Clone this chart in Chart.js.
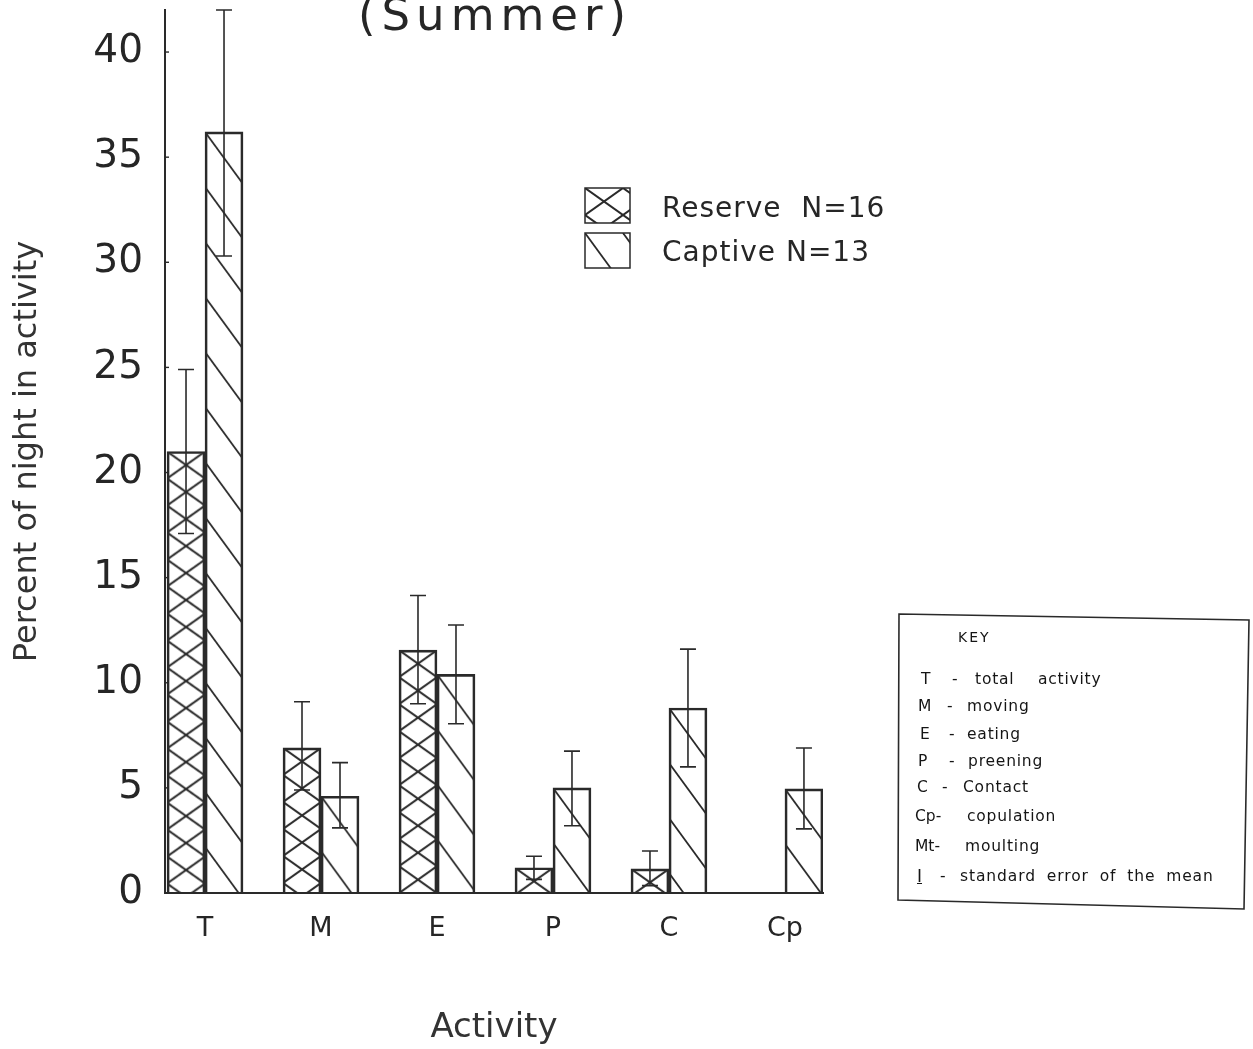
<!DOCTYPE html>
<html>
<head>
<meta charset="utf-8">
<script src="https://cdn.jsdelivr.net/npm/chart.js@4/dist/chart.umd.min.js"></script>
<style>
html,body{margin:0;padding:0;background:#fff;}
#wrap{position:relative;width:1253px;height:1049px;overflow:hidden;background:#fff;}
#c{position:absolute;left:0;top:0;}
.t{position:absolute;font-family:"DejaVu Sans",sans-serif;color:#262626;white-space:pre;line-height:1;}
.k{color:#151515;}
</style>
</head>
<body>
<div id="wrap"><canvas id="c" width="1253" height="1049"></canvas></div>
<script>
// ---------------- data ----------------
const categories = ['T', 'M', 'E', 'P', 'C', 'Cp'];
const seriesNames = ['Reserve  N=16', 'Captive N=13'];
const reserveMean = [21.0, 6.9, 11.55, 1.2, 1.15, 0];
const reserveLow  = [17.1, 4.9, 9.0, 0.65, 0.35, null];
const reserveHigh = [24.9, 9.1, 14.15, 1.75, 2.0, null];
const captiveMean = [36.2, 4.6, 10.4, 5.0, 8.8, 4.95];
const captiveLow  = [30.3, 3.1, 8.05, 3.2, 6.0, 3.05];
const captiveHigh = [42.0, 6.2, 12.75, 6.75, 11.6, 6.9];
const yTicks = [0, 5, 10, 15, 20, 25, 30, 35, 40];
const titleText = '(Summer)';
const yTitle = 'Percent of night in activity';
const xTitle = 'Activity';
const keyTitle = 'KEY';
const keyCodes = ['T', 'M', 'E', 'P', 'C', 'Cp-', 'Mt-'];
const keyDashes = ['-', '-', '-', '-', '-', '', ''];
const keyDescs = ['total  activity', 'moving', 'eating', 'preening', 'Contact', 'copulation', 'moulting'];
const seDesc = 'standard error of the mean';

// ---------------- styling / layout ----------------
const INK = '#2a2a2a';
const BAR_W = 38;
const FONT = '"DejaVu Sans", sans-serif';

function makeTile(w, h, segs, lw) {
  const c = document.createElement('canvas');
  c.width = w; c.height = h;
  const g = c.getContext('2d');
  g.strokeStyle = INK; g.lineWidth = lw;
  for (const dx of [-w, 0, w]) for (const dy of [-h, 0, h]) for (const s of segs) {
    g.beginPath(); g.moveTo(s[0] + dx, s[1] + dy); g.lineTo(s[2] + dx, s[3] + dy); g.stroke();
  }
  return c;
}
const crossTile = makeTile(38, 27, [[0, 0, 38, 27], [38, 0, 0, 27]], 2);
const hatchTile = makeTile(38, 55, [[0, 0, 38, 52]], 1.8);

function patternAt(ctx2d, tileCanvas, left, top) {
  const p = ctx2d.createPattern(tileCanvas, 'repeat');
  p.setTransform(new DOMMatrix([1, 0, 0, 1, left, top]));
  return p;
}

function barFill(tileCanvas, side) {
  return function (ctx) {
    if (ctx.type !== 'data') return 'rgba(0,0,0,0)';
    const chart = ctx.chart;
    const xs = chart.scales.x, ys = chart.scales.y;
    if (!xs || !ys) return 'rgba(0,0,0,0)';
    const c = xs.getPixelForValue(ctx.dataIndex);
    const left = side === 0 ? c - BAR_W : c;
    const top = ys.getPixelForValue(ctx.raw.y);
    return patternAt(chart.ctx, tileCanvas, left, top);
  };
}

const errorBars = {
  id: 'errorBars',
  afterDatasetsDraw(chart) {
    const ctx = chart.ctx, ys = chart.scales.y;
    ctx.save();
    ctx.strokeStyle = INK; ctx.lineWidth = 1.6;
    chart.data.datasets.forEach((ds, d) => {
      const meta = chart.getDatasetMeta(d);
      meta.data.forEach((bar, i) => {
        const lo = ds.errLow[i], hi = ds.errHigh[i];
        if (lo == null || hi == null) return;
        const x = bar.x, y1 = ys.getPixelForValue(lo), y2 = ys.getPixelForValue(hi);
        ctx.beginPath();
        ctx.moveTo(x, y1); ctx.lineTo(x, y2);
        ctx.moveTo(x - 8, y1); ctx.lineTo(x + 8, y1);
        ctx.moveTo(x - 8, y2); ctx.lineTo(x + 8, y2);
        ctx.stroke();
      });
    });
    ctx.restore();
  }
};

const extras = {
  id: 'extras',
  afterDraw(chart) {
    const ctx = chart.ctx, ys = chart.scales.y, xs = chart.scales.x;
    ctx.save();
    ctx.strokeStyle = INK; ctx.lineWidth = 1.4;
    // small inner tick marks on y axis
    yTicks.forEach(v => {
      const y = ys.getPixelForValue(v);
      ctx.beginPath(); ctx.moveTo(xs.left, y); ctx.lineTo(xs.left + 4, y); ctx.stroke();
    });
    // legend swatches
    const sw = [[585, 188, 45, 35, crossTile], [585, 233, 45, 35, hatchTile]];
    sw.forEach(s => {
      ctx.fillStyle = patternAt(ctx, s[4], s[0], s[1]);
      ctx.fillRect(s[0], s[1], s[2], s[3]);
      ctx.lineWidth = 1.5;
      ctx.strokeRect(s[0], s[1], s[2], s[3]);
    });
    // key box (slightly skewed as in the scan)
    ctx.lineWidth = 1.6;
    ctx.beginPath();
    ctx.moveTo(899, 614); ctx.lineTo(1249, 620); ctx.lineTo(1244, 909); ctx.lineTo(898, 900); ctx.closePath();
    ctx.stroke();
    ctx.restore();
  }
};

new Chart(document.getElementById('c'), {
  type: 'bar',
  data: {
    datasets: [
      {
        label: seriesNames[0],
        data: reserveMean.map((v, i) => ({ x: i, y: v })),
        errLow: reserveLow, errHigh: reserveHigh,
        backgroundColor: barFill(crossTile, 0),
        borderColor: INK, borderWidth: 2,
        barThickness: BAR_W
      },
      {
        label: seriesNames[1],
        data: captiveMean.map((v, i) => ({ x: i, y: v })),
        errLow: captiveLow, errHigh: captiveHigh,
        backgroundColor: barFill(hatchTile, 1),
        borderColor: INK, borderWidth: 2,
        barThickness: BAR_W
      }
    ]
  },
  options: {
    responsive: false,
    animation: false,
    layout: { padding: { top: 10, right: 430, bottom: 0, left: 0 } },
    plugins: { legend: { display: false }, tooltip: { enabled: false }, title: { display: false } },
    scales: {
      x: {
        type: 'linear',
        offset: false,
        min: -0.345, max: 5.328,
        afterBuildTicks: ax => { ax.ticks = categories.map((c, i) => ({ value: i })); },
        afterFit: ax => { ax.height = 156; ax.paddingLeft = 0; ax.paddingRight = 0; },
        grid: { display: false, drawTicks: false, offset: false },
        border: { display: true, color: INK, width: 2 },
        ticks: {
          padding: 20,
          color: '#262626',
          font: { family: FONT, size: 27 },
          callback: v => categories[v]
        },
        title: { display: true, text: xTitle, color: '#333', font: { family: FONT, size: 34 }, padding: { top: 0, bottom: 0 } }
      },
      y: {
        min: 0, max: 42,
        afterBuildTicks: ax => { ax.ticks = yTicks.map(v => ({ value: v })); },
        afterFit: ax => { ax.width = 165; ax.paddingTop = 0; ax.paddingBottom = 0; },
        grid: { display: false, drawTicks: false },
        border: { display: true, color: INK, width: 2 },
        ticks: { padding: 22, color: '#262626', font: { family: FONT, size: 39 } },
        title: { display: true, text: yTitle, color: '#333', font: { family: FONT, size: 32 }, padding: { top: 8, bottom: 0 } }
      }
    }
  },
  plugins: [errorBars, extras]
});

// ---------------- real-text overlays ----------------
const wrap = document.getElementById('wrap');
function place(text, x, baseline, size, extra, cls) {
  const d = document.createElement('div');
  d.className = 't' + (cls ? ' ' + cls : '');
  d.textContent = text;
  d.style.left = x + 'px';
  d.style.top = (baseline - 0.846 * size) + 'px';
  d.style.fontSize = size + 'px';
  if (extra) Object.assign(d.style, extra);
  wrap.appendChild(d);
  return d;
}
place(titleText, 358, 30, 45, { letterSpacing: '6px', fontWeight: '500' });
place(seriesNames[0], 662, 218, 28, { letterSpacing: '1px' });
place(seriesNames[1], 662, 262, 28, { letterSpacing: '1px' });

place(keyTitle, 958, 642, 14, { letterSpacing: '2px' }, 'k');
const keyBase = [685, 712, 740, 767, 793, 822, 852];
const codeX = [921, 918, 920, 918, 917, 915, 915];
const dashX = [952, 947, 949, 949, 942, 0, 0];
const descX = [975, 967, 967, 968, 963, 967, 965];
keyCodes.forEach((c, i) => {
  place(c, codeX[i], keyBase[i], 15.5, {}, 'k');
  if (keyDashes[i]) place(keyDashes[i], dashX[i], keyBase[i], 15.5, {}, 'k');
  place(keyDescs[i], descX[i], keyBase[i], 15.5, { letterSpacing: '0.8px', wordSpacing: '6px' }, 'k');
});
place('I', 917, 882, 17, { textDecoration: 'underline' }, 'k');
place('-', 940, 882, 15.5, {}, 'k');
place(seDesc, 960, 882, 15.5, { letterSpacing: '0.9px', wordSpacing: '5px' }, 'k');
</script>
</body>
</html>
